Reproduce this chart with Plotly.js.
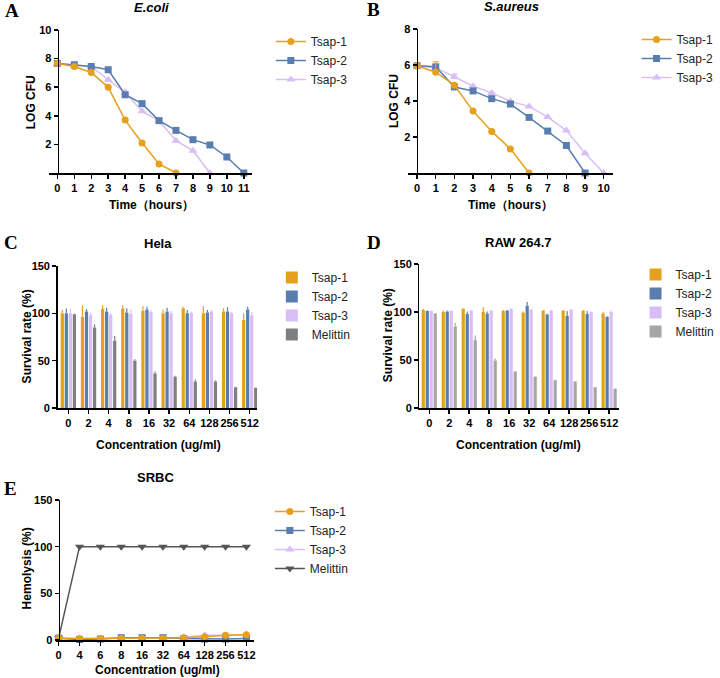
<!DOCTYPE html>
<html>
<head>
<meta charset="utf-8">
<script src="https://cdn.plot.ly/plotly-3.0.1.min.js"></script>
<style>
  html, body { margin: 0; padding: 0; background: #fff; }
  #plot { width: 720px; height: 678px; }
</style>
</head>
<body>
<div id="plot"></div>
<script>
// DATA ------------------------------------------------------------------
// A - E.coli kill curve (LOG CFU)
const ecoliHours = [0, 1, 2, 3, 4, 5, 6, 7, 8, 9, 10, 11];
const ecoliTsap1 = [7.66, 7.45, 7.03, 5.99, 3.70, 2.10, 0.63, 0];
const ecoliTsap2 = [7.66, 7.57, 7.45, 7.22, 5.47, 4.85, 3.66, 2.98, 2.33, 1.96, 1.12, 0];
const ecoliTsap3 = [7.66, 7.57, 7.45, 6.52, 5.64, 4.31, 3.66, 2.26, 1.56, 0];

// B - S.aureus kill curve
const aureusHours = [0, 1, 2, 3, 4, 5, 6, 7, 8, 9, 10];
const aureusTsap1 = [5.96, 5.60, 4.88, 3.44, 2.31, 1.34, 0];
const aureusTsap1Err = [0, 0.58, 0, 0, 0, 0, 0];
const aureusTsap2 = [5.96, 5.90, 4.78, 4.56, 4.13, 3.83, 3.09, 2.33, 1.53, 0];
const aureusTsap3 = [5.96, 5.85, 5.34, 4.82, 4.45, 3.98, 3.70, 3.11, 2.36, 1.10, 0];
const aureusTsap3Err = [0, 0, 0.15, 0, 0, 0, 0, 0, 0, 0, 0];

// C/D - cytotoxicity (survival %)
const concLabels = ['0', '2', '4', '8', '16', '32', '64', '128', '256', '512'];
const helaTsap1 = [100, 96.5, 104.5, 105, 102.5, 100, 105.5, 100, 102, 93];
const helaTsap1Err = [3.5, 12, 4, 3.5, 5, 4, 1.5, 7.5, 3.5, 7];
const helaTsap2 = [100, 102, 102, 101, 104, 102, 100, 101, 102, 104];
const helaTsap2Err = [5, 2.5, 4, 4.5, 3, 4, 3.5, 2.5, 4.5, 3];
const helaTsap3 = [100, 98, 98.5, 99.5, 101.5, 100, 100, 102, 100, 98];
const helaTsap3Err = [5, 3, 2, 4.5, 2, 2.5, 2, 1.5, 1.5, 3.5];
const helaMelittin = [99, 85, 71, 50, 36.5, 33, 28, 28, 22, 21];
const helaMelittinErr = [0.5, 3.5, 5, 1.5, 2, 1, 2, 1, 0.5, 1];

const rawTsap1 = [102, 100, 103.5, 100, 101, 99.5, 101.5, 101.5, 101.5, 98.5];
const rawTsap1Err = [1.5, 1.5, 0.5, 5, 1, 1, 0.5, 0.5, 0.5, 1.5];
const rawTsap2 = [101, 100.5, 98, 98.5, 101.5, 106.5, 97.5, 96, 98, 95];
const rawTsap2Err = [0.5, 1, 2.5, 2, 0.5, 4, 1, 5, 3, 0.5];
const rawTsap3 = [101, 101, 101.5, 101.5, 103, 102.5, 101.5, 102.5, 100, 100];
const rawTsap3Err = [0.5, 0.5, 0.5, 0.5, 1, 0.5, 0.5, 0.5, 0.5, 2];
const rawMelittin = [98.5, 85, 70.5, 49.5, 38, 32.5, 29, 27.5, 21.5, 20];
const rawMelittinErr = [0.5, 3.5, 5, 2, 0.5, 0.5, 0.5, 0.5, 0.5, 0.5];

// E - hemolysis
const srbcLabels = ['0', '4', '6', '8', '16', '32', '64', '128', '256', '512'];
const srbcIdx = [0, 1, 2, 3, 4, 5, 6, 7, 8, 9];
const srbcTsap1 = [2, 1.5, 1.5, 2, 2, 2, 2.5, 3.5, 5, 5.5];
const srbcTsap2 = [2, 0.5, 1, 2.5, 2.5, 2.5, 1.5, 1, 1, 1.5];
const srbcTsap3 = [2, 1, 2, 2, 2, 2, 3, 5, 5, 6];
const srbcMelittin = [2, 100, 100, 100, 100, 100, 100, 100, 100, 100];

// STYLE -----------------------------------------------------------------
const ORANGE = '#E5A11E', BLUE = '#5A7DB0', LAVENDER = '#D9BEF5';
const GRAY_C = '#7F7F7F', GRAY_D = '#A6A6A6', GRAY_E = '#555555';
const SANS = 'Liberation Sans, Arial, sans-serif';
const W = 720, H = 678;
function px(x){ return x / W; }
function py(y){ return 1 - y / H; }

// line trace with markers
function lineTrace(name, x, y, color, symbol, xa, ya, legend, rank, err){
    let t = {
        type: 'scatter', mode: 'lines+markers', name: name,
        x: x, y: y, xaxis: xa, yaxis: ya, legend: legend, legendrank: rank,
        line: { color: color, width: 1.5 },
        marker: { color: color, symbol: symbol, size: symbol.indexOf('triangle') === 0 ? 8 : 7 },
        cliponaxis: false
    };
    if(err){
        t.error_y = { type: 'data', array: err, symmetric: false, arrayminus: err.map(() => 0),
                      color: color, thickness: 1.2, width: 3 };
    }
    return t;
}
// bar trace with upward error
function barTrace(name, y, err, color, xa, ya, legend){
    return {
        type: 'bar', name: name, x: concLabels, y: y, xaxis: xa, yaxis: ya, legend: legend,
        marker: { color: color, line: { width: 0 } },
        error_y: { type: 'data', array: err, symmetric: false, arrayminus: err.map(() => 0),
                   color: color, thickness: 1.2, width: 0 }
    };
}

let data = [
    // A
    lineTrace('Tsap-3', ecoliHours.slice(0, ecoliTsap3.length), ecoliTsap3, LAVENDER, 'triangle-up', 'x', 'y', 'legend', 3),
    lineTrace('Tsap-2', ecoliHours, ecoliTsap2, BLUE, 'square', 'x', 'y', 'legend', 2),
    lineTrace('Tsap-1', ecoliHours.slice(0, ecoliTsap1.length), ecoliTsap1, ORANGE, 'circle', 'x', 'y', 'legend', 1),
    // B
    lineTrace('Tsap-3', aureusHours, aureusTsap3, LAVENDER, 'triangle-up', 'x2', 'y2', 'legend2', 3, aureusTsap3Err),
    lineTrace('Tsap-2', aureusHours.slice(0, aureusTsap2.length), aureusTsap2, BLUE, 'square', 'x2', 'y2', 'legend2', 2),
    lineTrace('Tsap-1', aureusHours.slice(0, aureusTsap1.length), aureusTsap1, ORANGE, 'circle', 'x2', 'y2', 'legend2', 1, aureusTsap1Err),
    // C
    barTrace('Tsap-1', helaTsap1, helaTsap1Err, ORANGE, 'x3', 'y3', 'legend3'),
    barTrace('Tsap-2', helaTsap2, helaTsap2Err, BLUE, 'x3', 'y3', 'legend3'),
    barTrace('Tsap-3', helaTsap3, helaTsap3Err, LAVENDER, 'x3', 'y3', 'legend3'),
    barTrace('Melittin', helaMelittin, helaMelittinErr, GRAY_C, 'x3', 'y3', 'legend3'),
    // D
    barTrace('Tsap-1', rawTsap1, rawTsap1Err, ORANGE, 'x4', 'y4', 'legend4'),
    barTrace('Tsap-2', rawTsap2, rawTsap2Err, BLUE, 'x4', 'y4', 'legend4'),
    barTrace('Tsap-3', rawTsap3, rawTsap3Err, LAVENDER, 'x4', 'y4', 'legend4'),
    barTrace('Melittin', rawMelittin, rawMelittinErr, GRAY_D, 'x4', 'y4', 'legend4'),
    // E
    lineTrace('Melittin', srbcIdx, srbcMelittin, GRAY_E, 'triangle-down', 'x5', 'y5', 'legend5', 4),
    lineTrace('Tsap-3', srbcIdx, srbcTsap3, LAVENDER, 'triangle-up', 'x5', 'y5', 'legend5', 3),
    lineTrace('Tsap-2', srbcIdx, srbcTsap2, BLUE, 'square', 'x5', 'y5', 'legend5', 2),
    lineTrace('Tsap-1', srbcIdx, srbcTsap1, ORANGE, 'circle', 'x5', 'y5', 'legend5', 1)
];

// AXES ------------------------------------------------------------------
function axis(extra){
    return Object.assign({
        showline: true, linecolor: '#000', linewidth: 1.5,
        ticks: 'outside', ticklen: 4, tickwidth: 1.5, tickcolor: '#000',
        showgrid: false, zeroline: false, fixedrange: true, tickangle: 0,
        tickfont: { family: SANS, size: 11, color: '#000', weight: 'bold' }
    }, extra);
}
function legend(x, y){
    return { x: px(x), y: py(y), xanchor: 'left', yanchor: 'top', bgcolor: 'rgba(0,0,0,0)',
             font: { family: SANS, size: 12, color: '#222' }, itemwidth: 30,
             traceorder: 'normal', tracegroupgap: 0 };
}
// annotation helper
function note(text, x, y, size, extra){
    return Object.assign({ text: text, x: px(x), y: py(y), xref: 'paper', yref: 'paper',
        showarrow: false, xanchor: 'center', yanchor: 'middle',
        font: { family: SANS, size: size, color: '#000' } }, extra || {});
}
function letter(t, x, y){
    return note('<b>' + t + '</b>', x, y, 19, { xanchor: 'left',
        font: { family: 'Liberation Serif, Times New Roman, serif', size: 19, color: '#000' } });
}

let layout = {
    width: W, height: H, margin: { l: 0, r: 0, t: 0, b: 0 },
    paper_bgcolor: '#fff', plot_bgcolor: 'rgba(0,0,0,0)',
    barmode: 'group', bargap: 0.2, bargroupgap: 0.2,
    // A
    xaxis: axis({ domain: [px(50), px(258)], range: [-0.5, 11.5], tickvals: ecoliHours, anchor: 'y' }),
    yaxis: axis({ domain: [py(173), py(30)], range: [0, 10], tickvals: [2, 4, 6, 8, 10],
                  anchor: 'free', position: px(59) }),
    // B
    xaxis2: axis({ domain: [px(417), px(627)], range: [-0.5, 10.5], tickvals: aureusHours, anchor: 'y2' }),
    yaxis2: axis({ domain: [py(173), py(29)], range: [0, 8], tickvals: [2, 4, 6, 8],
                   anchor: 'free', position: px(426) }),
    // C
    xaxis3: axis({ domain: [px(59), px(263)], range: [-0.53, 9.37], type: 'category', anchor: 'y3' }),
    yaxis3: axis({ domain: [py(408), py(266)], range: [0, 150], tickvals: [0, 50, 100, 150], anchor: 'x3' }),
    // D
    xaxis4: axis({ domain: [px(429), px(633)], range: [-0.49, 9.49], type: 'category', anchor: 'y4' }),
    yaxis4: axis({ domain: [py(408), py(264)], range: [0, 150], tickvals: [0, 50, 100, 150], anchor: 'x4' }),
    // E
    xaxis5: axis({ domain: [px(57), px(260)], range: [-0.14, 9.375], tickvals: srbcIdx, ticktext: srbcLabels, anchor: 'y5' }),
    yaxis5: axis({ domain: [py(640), py(500)], range: [0, 150], tickvals: [0, 50, 100, 150],
                   anchor: 'free', position: px(60) }),
    legend: legend(277, 27),
    legend2: legend(651, 25),
    legend3: legend(278, 263),
    legend4: legend(650, 260),
    legend5: legend(276, 497),
    annotations: [
        letter('A', 3, 11), letter('B', 373, 10), letter('C', 2, 242), letter('D', 373, 242), letter('E', 2, 488),
        note('<b><i>E.coli</i></b>', 155, 8, 13),
        note('<b><i>S.aureus</i></b>', 523, 6, 13),
        note('<b>Hela</b>', 162, 243, 13),
        note('<b>RAW 264.7</b>', 530, 242, 13),
        note('<b>SRBC</b>', 159, 477, 13),
        note('<b>LOG CFU</b>', 32, 102, 12, { textangle: -90 }),
        note('<b>LOG CFU</b>', 403, 101, 12, { textangle: -90 }),
        note('<b>Time（hours）</b>', 155, 205, 12),
        note('<b>Time（hours）</b>', 522, 205, 12),
        note('<b>Survival rate (%)</b>', 28, 336, 12, { textangle: -90 }),
        note('<b>Survival rate (%)</b>', 397, 335, 12, { textangle: -90 }),
        note('<b>Concentration (ug/ml)</b>', 162, 445, 12),
        note('<b>Concentration (ug/ml)</b>', 530, 445, 12),
        note('<b>Hemolysis (%)</b>', 28, 568, 12, { textangle: -90 }),
        note('<b>Concentration (ug/ml)</b>', 161, 670, 12)
    ]
};

Plotly.newPlot('plot', data, layout, { staticPlot: true, displayModeBar: false });
</script>
</body>
</html>
